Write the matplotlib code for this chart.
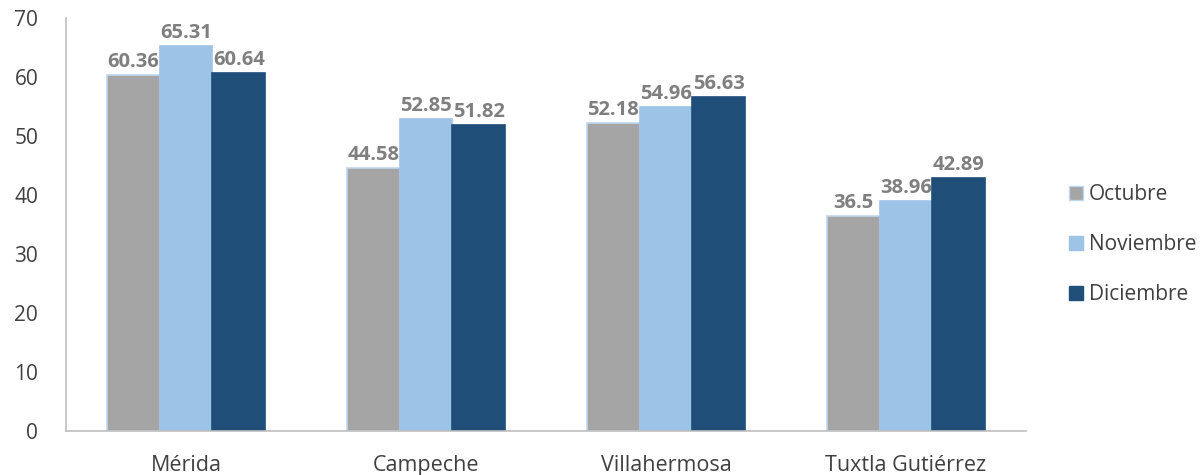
import matplotlib
matplotlib.use("Agg")
import matplotlib.pyplot as plt
import numpy as np
from matplotlib.patches import Patch

categories = ["Mérida", "Campeche", "Villahermosa", "Tuxtla Gutiérrez"]
series_names = ["Octubre", "Noviembre", "Diciembre"]
octubre = [60.36, 44.58, 52.18, 36.5]
noviembre = [65.31, 52.85, 54.96, 38.96]
diciembre = [60.64, 51.82, 56.63, 42.89]
yticks = [0, 10, 20, 30, 40, 50, 60, 70]

colors = ["#a5a5a5", "#9dc3e6", "#1f4e79"]
edges = ["#bdd7ee", "#9dc3e6", "#1f4e79"]

plt.rcParams['font.family'] = ['Open Sans', 'DejaVu Sans']

fig = plt.figure(figsize=(12.02, 4.75), dpi=100)
ax = fig.add_axes([0.0549, 0.0926, 0.7987, 0.8694])

x = np.arange(len(categories))
w = 0.22
data = [octubre, noviembre, diciembre]
for i, vals in enumerate(data):
    xs = x + (i - 1) * w
    bars = ax.bar(xs, vals, width=w, color=colors[i], edgecolor=edges[i], linewidth=1.2, label=series_names[i])
    for b, v in zip(bars, vals):
        ax.text(b.get_x() + b.get_width() / 2, v + 0.5, f"{v:g}", ha="center", va="bottom",
                fontsize=14.5, fontweight="bold", color="#7f7f7f")

ax.set_xlim(-0.5, len(categories) - 0.5)
ax.set_ylim(0, 70)
ax.set_yticks(yticks)
ax.set_xticks(x)
ax.set_xticklabels(categories, fontsize=15.5, color="#404040")
ax.tick_params(axis="y", labelsize=15, labelcolor="#404040", length=0, pad=20)
ax.tick_params(axis="x", length=0, pad=17)
for s in ["top", "right"]:
    ax.spines[s].set_visible(False)
ax.spines["left"].set_color("#bfbfbf")
ax.spines["bottom"].set_color("#bfbfbf")
ax.spines["left"].set_linewidth(1.2)
ax.spines["bottom"].set_linewidth(1.2)

handles = [Patch(facecolor=colors[i], edgecolor=edges[i], label=series_names[i]) for i in range(3)]
fig.legend(handles=handles, loc="center left", bbox_to_anchor=(0.874, 0.485), frameon=False,
           fontsize=15, labelspacing=1.4, handlelength=0.65, handleheight=0.65, handletextpad=0.3,
           labelcolor="#404040")

fig.savefig("out.png", dpi=100)
